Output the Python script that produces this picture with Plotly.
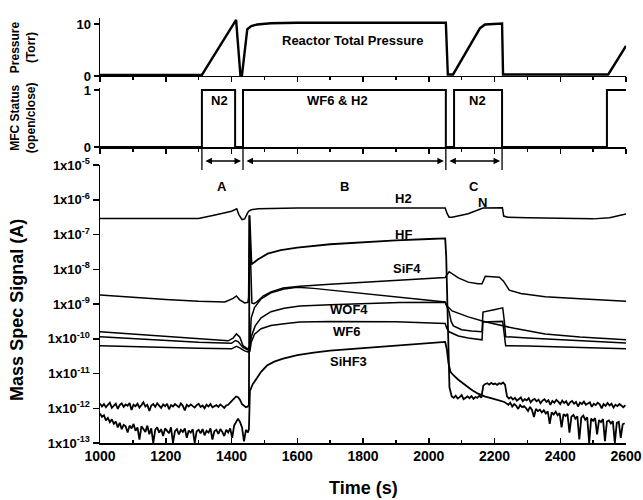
import plotly.graph_objects as go

# ---------------- data ----------------
# Reactor total pressure (Torr)
p_time = [1000, 1310, 1414, 1427, 1432, 1448, 1460, 1478, 1520, 1600, 2052, 2058, 2074, 2156, 2171, 2200, 2223, 2226, 2546, 2600]
p_torr = [0.2, 0.2, 10.8, 0.2, 0.2, 9.0, 9.6, 9.9, 10.15, 10.25, 10.25, 0.3, 0.3, 9.2, 9.9, 10.05, 10.1, 0.3, 0.3, 5.8]

# MFC status (open/close)
mfc_time = [1000, 1310, 1310, 1411, 1411, 1435, 1435, 2052, 2052, 2077, 2077, 2223, 2223, 2542, 2542, 2600]
mfc_state = [0, 0, 1, 1, 0, 0, 1, 1, 0, 0, 1, 1, 0, 0, 1, 1]

# Mass spec signals, log10(A)
h2_t = [1000, 1300, 1350, 1400, 1416, 1422, 1432, 1440, 1448, 1452, 1460, 1480, 1600, 2050, 2056, 2062, 2071, 2120, 2165, 2224, 2228, 2240, 2300, 2400, 2500, 2550, 2600]
h2_log = [-6.54, -6.54, -6.44, -6.33, -6.26, -6.42, -6.57, -6.55, -6.40, -6.33, -6.29, -6.26, -6.24, -6.24, -6.40, -6.50, -6.50, -6.40, -6.24, -6.23, -6.47, -6.50, -6.52, -6.54, -6.55, -6.52, -6.41]

hf_pre_log = [-11.86, -11.95, -11.88, -11.97, -11.90, -11.84, -11.99, -11.92, -11.87, -12.02,
              -11.91, -11.86, -11.96, -11.89, -11.93, -11.85, -12.05, -11.90, -11.94, -11.87,
              -11.98, -11.91, -11.83, -11.95, -11.90, -12.08, -11.92, -11.88, -11.96, -11.86,
              -11.93, -11.99, -11.89, -11.94, -11.87, -12.03, -11.91, -11.95, -11.88, -11.92,
              -11.97, -11.86, -11.93, -12.06, -11.90, -11.95, -11.89, -11.94, -11.98, -11.91,
              -11.87, -11.96, -11.92, -12.00, -11.90, -11.95, -11.88, -11.97, -11.93, -11.91,
              -11.96, -11.89, -11.94, -11.99, -11.92, -11.90, -11.84, -11.78, -11.70, -11.66,
              -11.68, -11.76, -11.88, -11.94, -11.97, -11.95]
hf_mid_t = [1453, 1455, 1458, 1461, 1480, 1496, 1510, 1550, 1600, 1700, 1800, 1900, 2000, 2050, 2053, 2058, 2063]
hf_mid_log = [-11.9, -6.45, -7.4, -7.86, -7.72, -7.63, -7.55, -7.45, -7.38, -7.28, -7.22, -7.17, -7.13, -7.11, -7.6, -9.5, -11.4]
hf_post_log = [-11.66, -11.70, -11.64, -11.72, -11.68, -11.62, -11.74, -11.69, -11.66, -11.71,
               -11.65, -11.73, -11.68, -11.70, -11.64, -11.69,
               -11.35, -11.30, -11.28, -11.32, -11.27, -11.31, -11.29, -11.33, -11.28, -11.30, -11.26, -11.32,
               -11.66, -11.72, -11.68, -11.75, -11.70, -11.78, -11.72, -11.69, -11.80, -11.74,
               -11.77, -11.71, -11.83, -11.76, -11.73, -11.80, -11.75, -11.86, -11.78, -11.74,
               -11.82, -11.77, -11.90, -11.79, -11.84, -11.76, -11.81, -11.88, -11.78, -11.85,
               -11.80, -11.92, -11.83, -11.79, -11.87, -11.82, -11.95, -11.84, -11.88, -11.81,
               -11.90, -11.86, -11.83, -11.96, -11.87, -11.91, -11.84, -11.89, -12.00, -11.88,
               -11.93, -11.85, -11.92, -11.87, -11.98, -11.90, -11.94, -11.88, -11.93, -11.97,
               -11.91]

sif4_t = [1000, 1100, 1200, 1300, 1380, 1405, 1415, 1425, 1440, 1450, 1452, 1454, 1458, 1462, 1468, 1477, 1496, 1520, 1557, 1608,
          1700, 1800, 1900, 2000, 2050, 2056, 2062, 2090, 2120, 2150, 2162, 2172, 2215, 2228, 2245, 2280, 2354, 2460, 2600]
sif4_log = [-8.74, -8.81, -8.87, -8.92, -8.94, -8.84, -8.77, -8.88, -8.97, -8.95, -8.8, -6.45, -7.9, -8.97, -8.99, -8.94, -8.77, -8.65, -8.54, -8.49,
            -8.43, -8.37, -8.31, -8.26, -8.24, -8.15, -8.07, -8.25, -8.37, -8.42, -8.42, -8.20, -8.23, -8.35, -8.60, -8.70, -8.79, -8.85, -8.92]

x5_t = [1000, 1100, 1200, 1300, 1390, 1405, 1415, 1425, 1435, 1450, 1456, 1460, 1470, 1490, 1520, 1560, 1600, 1650, 1700, 1800,
        1900, 2000, 2050, 2055, 2071, 2120, 2171, 2260, 2354, 2460, 2600]
x5_log = [-9.80, -9.87, -9.94, -10.0, -10.06, -9.98, -9.86, -9.95, -10.2, -10.3, -10.2, -9.4, -9.1, -8.85, -8.68, -8.57, -8.52, -8.55, -8.6, -8.7,
          -8.8, -8.88, -8.94, -9.05, -9.2, -9.37, -9.51, -9.7, -9.86, -9.95, -10.03]

wof4_t = [1000, 1100, 1200, 1300, 1400, 1412, 1420, 1435, 1450, 1456, 1460, 1472, 1490, 1520, 1560, 1608, 1700, 1800, 1912, 2050,
          2055, 2062, 2068, 2075, 2100, 2130, 2162, 2165, 2195, 2225, 2230, 2234, 2300, 2400, 2500, 2600]
wof4_log = [-9.94, -10.0, -10.05, -10.1, -10.13, -10.05, -10.08, -10.25, -10.32, -10.3, -9.95, -9.63, -9.4, -9.22, -9.12, -9.06, -9.02, -8.99, -8.96, -8.95,
            -9.05, -9.23, -9.5, -9.63, -9.74, -9.78, -9.8, -9.23, -9.17, -9.11, -9.5, -9.94, -9.98, -10.03, -10.08, -10.12]

wf6_t = [1000, 1100, 1200, 1300, 1400, 1415, 1425, 1440, 1450, 1456, 1460, 1470, 1490, 1520, 1560, 1608, 1700, 1800, 1900, 2050,
         2055, 2062, 2090, 2120, 2162, 2165, 2225, 2230, 2234, 2300, 2400, 2500, 2600]
wf6_log = [-10.2, -10.23, -10.25, -10.27, -10.29, -10.22, -10.26, -10.35, -10.38, -10.36, -10.1, -9.87, -9.71, -9.62, -9.57, -9.52, -9.5, -9.5, -9.51, -9.56,
           -9.7, -9.8, -9.92, -9.98, -10.03, -9.52, -9.5, -9.9, -10.2, -10.21, -10.24, -10.27, -10.29]

sihf3_pre_log = [-12.15, -12.25, -12.20, -12.35, -12.28, -12.40, -12.32, -12.45, -12.38, -12.55,
                 -12.42, -12.60, -12.48, -12.52, -12.70, -12.50, -12.58, -12.45, -12.65, -12.55,
                 -12.90, -12.52, -12.60, -12.68, -12.50, -12.75, -12.58, -13.00, -12.62, -12.55,
                 -12.70, -12.60, -12.80, -12.58, -12.65, -12.72, -12.55, -13.00, -12.66, -12.60,
                 -12.75, -12.62, -12.68, -12.58, -12.85, -12.64, -12.70, -12.60, -13.00, -12.66,
                 -12.62, -12.72, -12.60, -12.78, -12.65, -12.70, -12.58, -12.90, -12.66, -12.62,
                 -12.74, -12.60, -12.68, -12.80, -12.62, -12.70, -12.58, -12.85, -12.50, -12.38,
                 -12.30, -12.40, -12.55, -12.95, -12.62, -12.70]
sihf3_mid_t = [1453, 1456, 1465, 1477, 1490, 1508, 1530, 1557, 1600, 1650, 1700, 1800, 1900, 2000, 2050, 2055, 2060, 2066, 2075, 2090,
               2110, 2130, 2150, 2170, 2200, 2230]
sihf3_mid_log = [-12.6, -11.5, -11.3, -11.14, -10.95, -10.77, -10.66, -10.57, -10.47, -10.4, -10.34, -10.27, -10.2, -10.13, -10.09, -10.3, -10.7, -10.95, -11.05, -11.18,
                 -11.33, -11.47, -11.58, -11.66, -11.74, -11.82]
sihf3_post_log = [-11.86, -11.90, -11.84, -11.95, -11.88, -11.93, -12.02, -11.91, -11.97, -11.94,
                  -12.00, -12.08, -11.96, -12.05, -12.25, -12.02, -12.08, -12.04, -12.12, -12.06,
                  -12.15, -12.09, -12.45, -12.12, -12.18, -12.10, -12.20, -12.14, -12.55, -12.17,
                  -12.22, -12.16, -12.70, -12.24, -12.19, -12.30, -12.23, -12.90, -12.27, -12.21,
                  -12.33, -12.26, -13.00, -12.30, -12.36, -12.28, -12.75, -12.34, -12.40, -12.31,
                  -12.95, -12.38, -12.35, -12.44, -12.37, -13.00, -12.42, -12.39, -12.85, -12.46,
                  -12.43]

x_ticks = [1000, 1200, 1400, 1600, 1800, 2000, 2200, 2400, 2600]
y_exps = [-13, -12, -11, -10, -9, -8, -7, -6, -5]
y_ticktext = ['1x10<sup>%d</sup>' % e for e in y_exps]

species_labels = ['H2', 'HF', 'SiF4', 'WOF4', 'WF6', 'SiHF3', 'N']
label_t = [1922, 1922, 1934, 1757, 1751, 1757, 2162]
label_log = [-5.97, -6.99, -7.97, -9.17, -9.80, -10.66, -6.09]

region_names = ['A', 'B', 'C']
region_start = [1310, 1435, 2052]
region_end = [1435, 2052, 2223]

# ---------------- helpers ----------------
def grid(start, step, n):
    return [start + step * i for i in range(n)]

def ln(x):
    return [10 ** v for v in x]

FONT = 'Liberation Sans, Arial, sans-serif'
LW = 1.5

fig = go.Figure()

# pressure
fig.add_trace(go.Scatter(x=p_time, y=p_torr, mode='lines', line=dict(color='black', width=2.4),
                         xaxis='x', yaxis='y', hoverinfo='skip'))
# MFC
fig.add_trace(go.Scatter(x=mfc_time, y=mfc_state, mode='lines', line=dict(color='black', width=2),
                         xaxis='x2', yaxis='y2', hoverinfo='skip'))

# mass spec
series = [
    ('H2', h2_t, h2_log, LW),
    ('HF', grid(1000, 6, len(hf_pre_log)) + hf_mid_t + grid(2070, 6, len(hf_post_log)),
     hf_pre_log + hf_mid_log + hf_post_log, 1.8),
    ('SiF4', sif4_t, sif4_log, LW),
    ('m5', x5_t, x5_log, LW),
    ('WOF4', wof4_t, wof4_log, LW),
    ('WF6', wf6_t, wf6_log, LW),
    ('SiHF3', grid(1000, 6, len(sihf3_pre_log)) + sihf3_mid_t + grid(2236, 6, len(sihf3_post_log)),
     sihf3_pre_log + sihf3_mid_log + sihf3_post_log, 1.8),
]
for name, t, v, w in series:
    fig.add_trace(go.Scatter(x=t, y=ln(v), mode='lines', name=name,
                             line=dict(color='black', width=w), xaxis='x3', yaxis='y3',
                             hoverinfo='skip'))

axis_common = dict(showgrid=False, zeroline=False, showline=True, linecolor='black', linewidth=1.5,
                   tickcolor='black', tickwidth=1.5, automargin=False)

fig.update_layout(
    width=643, height=500,
    autosize=False,
    margin=dict(l=100, r=17, t=10, b=57, pad=0),
    plot_bgcolor='white', paper_bgcolor='white',
    showlegend=False,
    hovermode=False,
    font=dict(family=FONT, color='black', size=13, weight='bold'),
    xaxis=dict(domain=[0, 1], range=[1000, 2600], anchor='y', ticks='outside', ticklen=5,
               tickvals=x_ticks, showticklabels=False,
               minor=dict(dtick=100, tick0=1000, ticks='outside', ticklen=3, tickwidth=1.5, tickcolor='black', showgrid=False),
               **axis_common),
    yaxis=dict(domain=[0.8476, 0.982], range=[0, 11.2], anchor='x', ticks='outside', ticklen=5,
               tickvals=[0, 10], ticktext=['0', '10'], tickfont=dict(size=13, weight='bold'), **axis_common),
    xaxis2=dict(domain=[0, 1], range=[1000, 2600], anchor='y2', ticks='outside', ticklen=5,
                tickvals=x_ticks, showticklabels=False,
                minor=dict(dtick=100, tick0=1000, ticks='outside', ticklen=3, tickwidth=1.5, tickcolor='black', showgrid=False),
                **axis_common),
    yaxis2=dict(domain=[0.6836, 0.8206], range=[0, 1.04], anchor='x2', ticks='outside', ticklen=5,
                tickvals=[0, 1], ticktext=['0', '1'], tickfont=dict(size=13, weight='bold'), **axis_common),
    xaxis3=dict(domain=[0, 1], range=[1000, 2600], anchor='y3', ticks='inside', ticklen=5,
                tickvals=x_ticks, ticktext=[str(v) for v in x_ticks],
                tickfont=dict(size=14, weight='bold'),
                minor=dict(dtick=100, tick0=1000, ticks='inside', ticklen=3, tickwidth=1.5, tickcolor='black', showgrid=False),
                **axis_common),
    yaxis3=dict(domain=[0, 0.642], type='log', range=[-13, -5], anchor='x3', ticks='outside', ticklen=6,
                tickvals=[10 ** e for e in y_exps], ticktext=y_ticktext,
                tickfont=dict(size=13, weight='bold'), **axis_common),
)

# axis titles
fig.add_annotation(text='Time (s)', xref='paper', yref='paper', x=0.5, y=-0.104,
                   showarrow=False, font=dict(size=18, weight='bold'), xanchor='center', yanchor='middle')
fig.add_annotation(text='Mass Spec Signal (A)', xref='paper', yref='paper', x=-0.158, y=(443 - 310) / 433,
                   showarrow=False, textangle=-90, font=dict(size=18, weight='bold'),
                   xanchor='center', yanchor='middle')
fig.add_annotation(text='Pressure<br>(Torr)', xref='paper', yref='paper', x=-0.146, y=(443 - 47) / 433,
                   showarrow=False, textangle=-90, font=dict(size=12, weight='bold'),
                   xanchor='center', yanchor='middle')
fig.add_annotation(text='MFC Status<br>(open/close)', xref='paper', yref='paper', x=-0.146, y=(443 - 118) / 433,
                   showarrow=False, textangle=-90, font=dict(size=12, weight='bold'),
                   xanchor='center', yanchor='middle')

# panel texts
fig.add_annotation(text='Reactor Total Pressure', x=1767, y=6.9, xref='x', yref='y', showarrow=False,
                   font=dict(size=13, weight='bold'))
for txt, t in zip(['N2', 'WF6 & H2', 'N2'], [1362, 1721, 2147]):
    fig.add_annotation(text=txt, x=t, y=0.82, xref='x2', yref='y2', showarrow=False,
                       font=dict(size=13, weight='bold'))

# species labels
for txt, t, v in zip(species_labels, label_t, label_log):
    fig.add_annotation(text=txt, x=t, y=v, xref='x3', yref='y3', showarrow=False,
                       font=dict(size=13, weight='bold'))

# region separators, arrows, labels
sep_y0 = (443 - 170) / 433
sep_y1 = (443 - 147) / 433
for t in sorted(set(region_start + region_end)):
    fig.add_shape(type='line', xref='x3', yref='paper', x0=t, x1=t, y0=sep_y0, y1=sep_y1,
                  line=dict(color='black', width=1.3))
arrow_y = (443 - 161) / 278
label_y = (443 - 177) / 278
for name, t0, t1 in zip(region_names, region_start, region_end):
    fig.add_annotation(x=t1, y=arrow_y, xref='x3', yref='y3 domain',
                       ax=t0, ay=arrow_y, axref='x3', ayref='y3 domain',
                       text='', showarrow=True, arrowhead=2, startarrowhead=2, arrowside='end+start',
                       arrowsize=1, startarrowsize=1, arrowwidth=1.3, arrowcolor='black',
                       standoff=2, startstandoff=2)
    fig.add_annotation(text=name, x=(t0 + t1) / 2, y=label_y, xref='x3', yref='y3 domain',
                       showarrow=False, font=dict(size=13, weight='bold'))

fig.write_html('out.html',
               config={'displayModeBar': False, 'staticPlot': True},
               post_script="document.body.style.margin='0';document.body.style.padding='0';")
